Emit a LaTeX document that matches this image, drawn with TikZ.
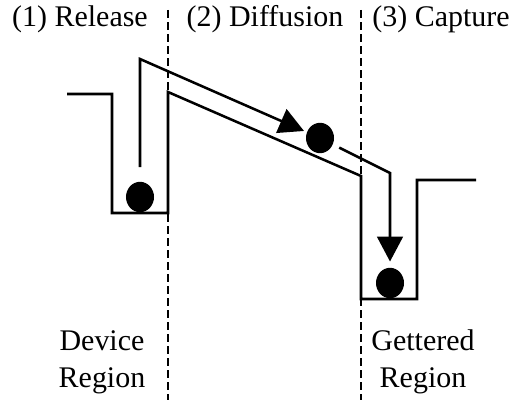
\documentclass[tikz,border=0pt]{standalone}
\usepackage{fontspec}
\setmainfont{Liberation Serif}
\usetikzlibrary{arrows.meta,shapes.geometric,positioning}

\begin{document}
\begin{tikzpicture}[
    x=0.025cm, y=-0.025cm,
    band/.style={line width=1.8pt},
    border/.style={line width=1.8pt, dash pattern=on 0.2cm off 0.1cm},
    flow/.style={line width=1.8pt, -{Triangle[length=0.62cm, width=0.64cm]}},
    ball/.style={ellipse, fill=black, minimum width=0.7cm, minimum height=0.76cm, inner sep=0pt},
    stage/.style={font=\fontsize{21.3}{26.5}\selectfont, inner sep=0pt},
    region/.style={font=\fontsize{21.3}{26.5}\selectfont, align=center, inner sep=0pt}
]
    \useasboundingbox (0,0) rectangle (517,400);

    % Region borders
    \draw[border] (168,10) -- (168,400);
    \draw[border] (361,10) -- (361,400);

    % Stage labels
    \node[stage] (release) at (80,19) {(1) Release};
    \node[stage] (diffusion) at (265,19) {(2) Diffusion};
    \node[stage] (capture) at (441,19) {(3) Capture};

    % Energy profile
    \draw[band] (67,94) -- (112,94) -- (112,213) -- (168,213) -- (168,92)
        -- (361,176) -- (361,299) -- (417,299) -- (417,180) -- (476,180);

    % Impurities
    \node[ball] (trapA) at (140,197) {};
    \node[ball] (trapB) at (320,138) {};
    \node[ball] (trapC) at (390,283) {};

    % Paths
    \coordinate (start) at (140,167);
    \coordinate (top) at (140,59);
    \coordinate (bend) at (390,173);
    \draw[flow, shorten >=0.075cm] (start) -- (top) -- (trapB);
    \draw[flow, shorten <=0.175cm, shorten >=0.15cm] (trapB) -- (bend) -- (trapC);

    % Region labels
    \node[region] (device) at (102,362) {Device\\Region};
    \node[region] (gettered) at (423,362) {Gettered\\Region};
\end{tikzpicture}
\end{document}
